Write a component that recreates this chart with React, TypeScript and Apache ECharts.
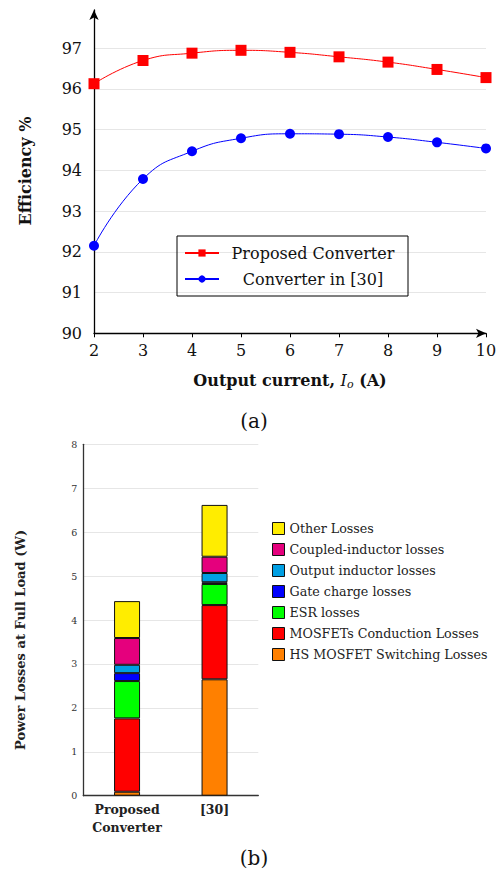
import React, { useEffect, useRef } from "react";
import * as echarts from "echarts";

const currents = [2, 3, 4, 5, 6, 7, 8, 9, 10];
const proposedEff = [96.13, 96.7, 96.88, 96.95, 96.9, 96.79, 96.66, 96.48, 96.28];
const refEff = [92.15, 93.79, 94.47, 94.79, 94.9, 94.89, 94.82, 94.69, 94.54];

const barCategories = ["Proposed\nConverter", "[30]"];
const lossNames = [
  "HS MOSFET Switching Losses",
  "MOSFETs Conduction Losses",
  "ESR losses",
  "Gate charge losses",
  "Output inductor losses",
  "Coupled-inductor losses",
  "Other Losses",
];
const lossColors = ["#FF8000", "#FF0000", "#00FF00", "#0000FF", "#009FE3", "#E5007D", "#FFED00"];
const lossProposed = [0.09, 1.67, 0.85, 0.18, 0.19, 0.61, 0.84];
const lossRef = [2.65, 1.69, 0.48, 0.04, 0.21, 0.37, 1.18];

const SERIF = "DejaVu Serif";

export default function App() {
  const ref = useRef<HTMLDivElement>(null);
  useEffect(() => {
    document.body.style.margin = "0";
    const chart = echarts.init(ref.current!, null, { renderer: "svg" });
    const lineSeries: any[] = [
      {
        name: "Proposed Converter",
        type: "line",
        xAxisIndex: 0,
        yAxisIndex: 0,
        data: currents.map((c, i) => [c, proposedEff[i]]),
        smooth: true,
        symbol: "rect",
        symbolSize: 11,
        lineStyle: { color: "#FF0000", width: 1 },
        itemStyle: { color: "#FF0000" },
      },
      {
        name: "Converter in [30]",
        type: "line",
        xAxisIndex: 0,
        yAxisIndex: 0,
        data: currents.map((c, i) => [c, refEff[i]]),
        smooth: true,
        symbol: "circle",
        symbolSize: 10,
        lineStyle: { color: "#0000FF", width: 1 },
        itemStyle: { color: "#0000FF" },
      },
    ];
    const barSeries = lossNames.map((n, k) => ({
      name: n,
      type: "bar",
      stack: "loss",
      xAxisIndex: 1,
      yAxisIndex: 1,
      barWidth: 26,
      data: [lossProposed[k], lossRef[k]],
      itemStyle: { color: lossColors[k], borderColor: "#111", borderWidth: 1 },
    }));
    chart.setOption({
      animation: false,
      textStyle: { fontFamily: SERIF },
      grid: [
        { left: 94, right: 18, top: 10, height: 323.3 },
        { left: 83.3, top: 444.3, width: 175, height: 351.4 },
      ],
      xAxis: [
        {
          type: "value",
          gridIndex: 0,
          min: 2,
          max: 10,
          interval: 1,
          axisLine: { show: true, lineStyle: { color: "#000", width: 1.3 }, symbol: ["none", "arrow"], symbolSize: [7, 10] },
          axisTick: { show: true, length: 4, lineStyle: { color: "#000" } },
          splitLine: { show: false },
          axisLabel: { color: "#111", fontSize: 16, fontFamily: SERIF, margin: 9 },
        },
        {
          type: "category",
          gridIndex: 1,
          data: barCategories,
          axisLine: { show: true, lineStyle: { color: "#333", width: 1.3 } },
          axisTick: { show: false },
          axisLabel: {
            interval: 0,
            color: "#222",
            fontSize: 12.5,
            fontWeight: "bold",
            fontFamily: SERIF,
            margin: 5,
            lineHeight: 18,
          },
        },
      ],
      yAxis: [
        {
          type: "value",
          gridIndex: 0,
          min: 90,
          max: 97.94,
          interval: 1,
          axisLine: { show: true, lineStyle: { color: "#000", width: 1.3 }, symbol: ["none", "arrow"], symbolSize: [7, 10] },
          axisTick: { show: false },
          splitLine: { show: true, showMaxLine: false, lineStyle: { color: "#e6e6e6", width: 1 } },
          axisLabel: {
            color: "#111",
            fontSize: 16,
            fontFamily: SERIF,
            margin: 12,
            showMaxLabel: false,
            formatter: (v: number) => (Number.isInteger(v) ? String(v) : ""),
          },
        },
        {
          type: "value",
          gridIndex: 1,
          min: 0,
          max: 8,
          interval: 1,
          axisLine: { show: true, lineStyle: { color: "#333", width: 1.3 } },
          axisTick: { show: false },
          splitLine: { show: true, lineStyle: { color: "#e6e6e6", width: 1 } },
          axisLabel: { color: "#333", fontSize: 9.5, fontFamily: SERIF, margin: 6 },
        },
      ],
      legend: [
        {
          data: [
            { name: "Proposed Converter", itemStyle: { color: "#FF0000" } },
            { name: "Converter in [30]", itemStyle: { color: "#0000FF" } },
          ],
          orient: "vertical",
          left: 177,
          top: 236,
          padding: [7, 6, 7, 7],
          itemGap: 6,
          itemWidth: 34,
          itemHeight: 9,
          borderColor: "#000",
          borderWidth: 1,
          formatter: (name: string) => `{c|${name}}`,
          textStyle: {
            fontSize: 16,
            fontFamily: SERIF,
            color: "#111",
            rich: { c: { width: 178, height: 20, lineHeight: 20, align: "center", fontSize: 16, fontFamily: SERIF, color: "#111" } },
          },
        },
        {
          data: lossNames.slice().reverse(),
          orient: "vertical",
          left: 272,
          top: 522,
          padding: 0,
          icon: "rect",
          itemGap: 8,
          itemWidth: 12,
          itemHeight: 12,
          itemStyle: { borderColor: "#111", borderWidth: 1 },
          textStyle: { fontSize: 12.7, lineHeight: 12, fontFamily: SERIF, color: "#222" },
        },
      ],
      graphic: [
        {
          type: "text",
          x: 25,
          y: 171,
          rotation: Math.PI / 2,
          style: {
            text: "Efficiency %",
            font: `bold 16px "${SERIF}"`,
            fill: "#111",
            align: "center",
            verticalAlign: "middle",
          },
        },
        {
          type: "text",
          x: 290,
          y: 380,
          style: {
            text: "{b|Output current, }{i|I}{s|o}{b| (A)}",
            align: "center",
            verticalAlign: "middle",
            rich: {
              b: { font: `bold 16px "${SERIF}"`, fill: "#111" },
              i: { font: `italic 16px "${SERIF}"`, fill: "#111" },
              s: { font: `italic 11px "${SERIF}"`, fill: "#111", padding: [8, 0, 0, 0] },
            },
          },
        },
        {
          type: "text",
          x: 254,
          y: 421,
          style: { text: "(a)", font: `20px "${SERIF}"`, fill: "#111", align: "center", verticalAlign: "middle" },
        },
        {
          type: "text",
          x: 20,
          y: 640,
          rotation: Math.PI / 2,
          style: {
            text: "Power Losses at Full Load (W)",
            font: `bold 13px "${SERIF}"`,
            fill: "#222",
            align: "center",
            verticalAlign: "middle",
          },
        },
        {
          type: "text",
          x: 254,
          y: 858,
          style: { text: "(b)", font: `20px "${SERIF}"`, fill: "#111", align: "center", verticalAlign: "middle" },
        },
      ],
      series: [...lineSeries, ...barSeries],
    });
    return () => chart.dispose();
  }, []);
  return <div ref={ref} style={{ width: 504, height: 872 }} />;
}
